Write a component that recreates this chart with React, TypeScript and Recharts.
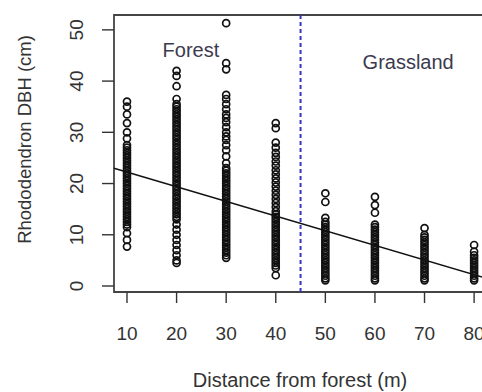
import React from 'react';
import { ScatterChart, Scatter, XAxis, YAxis, ReferenceLine, ReferenceArea, ReferenceDot } from 'recharts';

// Distance from forest (m) categories
const distances = [10, 20, 30, 40, 50, 60, 70, 80];

// Rhododendron DBH (cm) readings per distance
const dbh10 = [36, 35, 33.5, 31.8, 30, 28.8, 27.5, 27, 26.5, 26, 25.5, 25, 24.5, 24, 23.5, 23, 22.5, 22, 21.5, 21, 20.5, 20, 19.5, 19, 18.5, 18, 17.5, 17, 16.5, 16, 15.5, 15, 14.5, 14, 13.5, 13, 12.5, 12, 11.5, 10.3, 9, 7.7];
const dbh20 = [42, 41, 39, 36.5, 35.5, 35, 34.5, 34, 33.5, 33, 32.5, 32, 31.5, 31, 30.5, 30, 29.5, 29, 28.5, 28, 27.5, 27, 26.5, 26, 25.5, 25, 24.5, 24, 23.5, 23, 22.5, 22, 21.5, 21, 20.5, 20, 19.5, 19, 18.5, 18, 17.5, 17, 16.5, 16, 15.5, 15, 14.5, 14, 13.5, 13, 12, 11, 10, 9, 8, 7, 6, 5, 4.5];
const dbh30 = [51.3, 43.5, 42.3, 37.3, 36.5, 35.5, 34.5, 33.5, 32.8, 32, 31, 30, 29.2, 28.5, 27.5, 26.5, 25.3, 24, 23, 22.5, 22, 21.5, 21, 20.5, 20, 19.5, 19, 18.5, 18, 17.5, 17, 16.5, 16, 15.5, 15, 14.5, 14, 13.5, 13, 12.5, 12, 11.5, 11, 10.5, 10, 9.5, 9, 8.5, 8, 7.5, 7, 6.5, 6, 5.5];
const dbh40 = [31.8, 30.8, 28, 27, 26, 25.2, 24.3, 23.5, 22.6, 21.8, 21, 20.2, 19.4, 18.6, 17.8, 17, 16.2, 15.4, 14.6, 14, 13.5, 13, 12.5, 12, 11.5, 11, 10.5, 10, 9.5, 9, 8.5, 8, 7.5, 7, 6.5, 6, 5.5, 5, 4.5, 4, 3.5, 2.1];
const dbh50 = [18.1, 16.4, 13.3, 12.5, 12, 11.5, 11, 10.5, 10, 9.5, 9, 8.5, 8, 7.5, 7, 6.5, 6, 5.5, 5, 4.5, 4, 3.5, 3, 2.5, 2, 1.5, 1.1];
const dbh60 = [17.4, 15.8, 14.3, 12, 11.5, 11, 10.5, 10, 9.5, 9, 8.5, 8, 7.5, 7, 6.5, 6, 5.5, 5, 4.5, 4, 3.5, 3, 2.5, 2, 1.5, 1.1];
const dbh70 = [11.3, 10, 9.5, 9, 8.5, 8, 7.5, 7, 6.5, 6, 5.5, 5, 4.5, 4, 3.5, 3, 2.5, 2, 1.5, 1.1];
const dbh80 = [8, 6.7, 6, 5.5, 5, 4.5, 4, 3.5, 3, 2.5, 2, 1.5, 1.1];

const dbhByDistance = [dbh10, dbh20, dbh30, dbh40, dbh50, dbh60, dbh70, dbh80];

const xTicks = [10, 20, 30, 40, 50, 60, 70, 80];
const yTicks = [0, 10, 20, 30, 40, 50];

const boundaryDistance = 45;
const fitIntercept = 25.1;
const fitSlope = -0.286;

const xDomain: [number, number] = [7.38, 82.8];
const yDomain: [number, number] = [-1.17, 52.9];

const regionLabels = [
  { name: 'Forest', x: 22.9, y: 46.1 },
  { name: 'Grassland', x: 66.7, y: 43.7 },
];

const points = distances.flatMap((d, i) => dbhByDistance[i].map((v) => ({ x: d, y: v })));

const FONT = '"Liberation Sans", Arial, Helvetica, sans-serif';
const TEXT = '#333';

const OpenCircle = (props: any) => {
  const { cx, cy } = props;
  if (cx == null || cy == null) return null;
  return <circle cx={cx} cy={cy} r={3.5} fill="none" stroke="#111" strokeWidth={1.7} />;
};

const YTick = (props: any) => {
  const { x, y, payload } = props;
  const tx = x - 17;
  return (
    <text x={tx} y={y} transform={`rotate(-90, ${tx}, ${y})`} textAnchor="middle" fontSize={19} fill={TEXT} fontFamily={FONT}>
      {payload.value}
    </text>
  );
};

const XTick = (props: any) => {
  const { x, y, payload } = props;
  return (
    <text x={x} y={y + 35} textAnchor="middle" fontSize={19} fill={TEXT} fontFamily={FONT}>
      {payload.value}
    </text>
  );
};

const XTitle = (props: any) => {
  const vb = props.viewBox || {};
  return (
    <text x={vb.x + vb.width / 2 - 1} y={vb.y + 95} textAnchor="middle" fontSize={20} fill={TEXT} fontFamily={FONT}>
      Distance from forest (m)
    </text>
  );
};

const YTitle = (props: any) => {
  const vb = props.viewBox || {};
  const tx = vb.x + 31;
  const ty = vb.y + vb.height / 2 - 14;
  return (
    <text x={tx} y={ty} transform={`rotate(-90, ${tx}, ${ty})`} textAnchor="middle" fontSize={18.5} fill={TEXT} fontFamily={FONT}>
      Rhododendron DBH (cm)
    </text>
  );
};

const regionText = (label: string) => (props: any) => (
  <text x={props.cx} y={props.cy} textAnchor="middle" dominantBaseline="central" fontSize={20} fill="#3c3a4e" fontFamily={FONT}>
    {label}
  </text>
);

export default function App() {
  return (
    <div style={{ position: 'fixed', left: 0, top: 0, width: 482, height: 392, overflow: 'hidden', background: '#fff' }}>
      <ScatterChart width={500} height={392} margin={{ top: 15, right: 12, bottom: 0, left: 0 }}>
        <XAxis
          type="number"
          dataKey="x"
          domain={xDomain}
          ticks={xTicks}
          allowDataOverflow
          height={100}
          tickSize={11}
          axisLine={false}
          tickLine={{ stroke: '#333', strokeWidth: 1.4 }}
          tick={<XTick />}
          label={{ content: XTitle }}
        />
        <YAxis
          type="number"
          dataKey="y"
          domain={yDomain}
          ticks={yTicks}
          allowDataOverflow
          width={114}
          tickSize={12}
          tickMargin={2}
          axisLine={false}
          tickLine={{ stroke: '#333', strokeWidth: 1.4 }}
          tick={<YTick />}
          label={{ content: YTitle }}
        />
        <ReferenceArea
          x1={xDomain[0]}
          x2={xDomain[1]}
          y1={yDomain[0]}
          y2={yDomain[1]}
          fill="none"
          fillOpacity={0}
          stroke="#444"
          strokeWidth={1.8}
          ifOverflow="visible"
        />
        <ReferenceLine
          x={boundaryDistance}
          stroke="#3535c8"
          strokeWidth={2}
          strokeDasharray="4 3"
        />
        <ReferenceLine
          segment={[
            { x: xDomain[0], y: fitIntercept + fitSlope * xDomain[0] },
            { x: xDomain[1], y: fitIntercept + fitSlope * xDomain[1] },
          ]}
          stroke="#111"
          strokeWidth={1.4}
          ifOverflow="visible"
        />
        {regionLabels.map((r) => (
          <ReferenceDot key={r.name} x={r.x} y={r.y} r={0} ifOverflow="visible" shape={regionText(r.name)} />
        ))}
        <Scatter data={points} isAnimationActive={false} shape={<OpenCircle />} />
      </ScatterChart>
    </div>
  );
}
